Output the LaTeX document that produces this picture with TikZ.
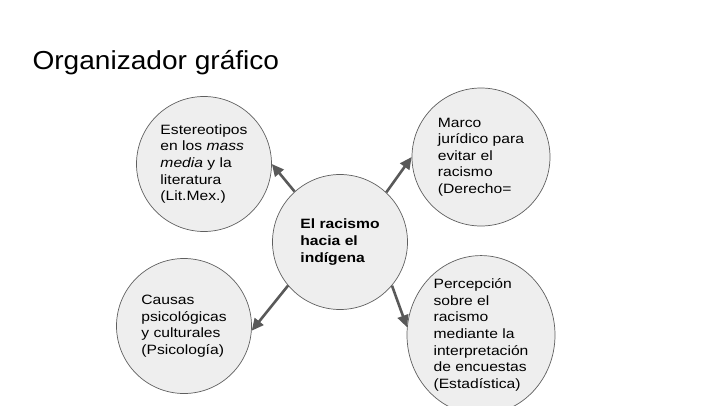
\documentclass[tikz,border=0pt]{standalone}
\usepackage{fontspec}
\setmainfont{Liberation Sans}
\newfontfamily\bubblefont[FakeStretch=1.16]{Liberation Sans}
\newfontfamily\headingfont[FakeStretch=1.08]{Liberation Sans}
\usetikzlibrary{arrows.meta,shapes.geometric}

\definecolor{bubblefill}{HTML}{EEEEEE}
\definecolor{bubbleline}{HTML}{5F5F5F}
\definecolor{arrowgray}{HTML}{595959}

\begin{document}
\begin{tikzpicture}[
      x=1pt, y=-1pt,
      >={Triangle[length=12pt,width=11pt]},
      bubble/.style={ellipse, draw=bubbleline, line width=0.7pt,
        fill=bubblefill, inner sep=0pt, align=left,
        font=\bubblefont\fontsize{13.5}{16.6}\selectfont,
        minimum width=135pt, minimum height=135pt},
      link/.style={->, line width=2.6pt, arrowgray},
      heading/.style={anchor=base west, font=\headingfont\fontsize{26}{30}\selectfont}
    ]
    \useasboundingbox (0,0) rectangle (720,405);

    \node[heading] (title) at (29,69) {Organizador gráfico};

    \node[bubble] (racismo) at (340,242)
      {\textbf{El racismo}\\ \textbf{hacia el}\\ \textbf{indígena}};
    \node[bubble] (medios) at (204,164)
      {Estereotipos\\ en los \textit{mass}\\ \textit{media} y la\\ literatura\\ (Lit.Mex.)};
    \node[bubble, minimum width=138pt, minimum height=138pt] (derecho) at (481,157)
      {Marco\\ jurídico para\\ evitar el\\ racismo\\ (Derecho=};
    \node[bubble] (causas) at (184,326)
      {Causas\\ psicológicas\\ y culturales\\ (Psicología)};
    \node[bubble, minimum width=148pt, minimum height=137pt] (encuestas) at (481,335)
      {Percepción\\ sobre el\\ racismo\\ mediante la\\ interpretación\\ de encuestas\\ (Estadística)};

    \draw[link] (racismo.132) -- (medios.0);
    \draw[link] (racismo.47) -- (derecho.180);
    \draw[link] (racismo.220) -- (causas.356);
    \draw[link] (racismo.320) -- (encuestas.174);
  \end{tikzpicture}
\end{document}
